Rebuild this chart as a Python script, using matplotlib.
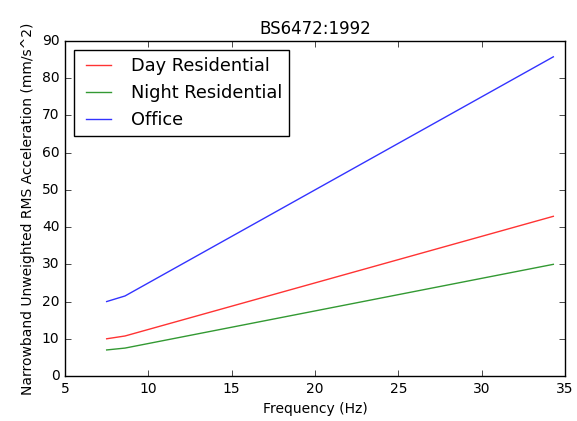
import matplotlib
matplotlib.use("Agg")
import matplotlib.pyplot as plt

plt.style.use("classic")

# Frequency breakpoints (Hz) and acceleration limits (mm/s^2)
freq = [7.5, 8.6, 34.3]
day_residential = [10.0, 10.75, 42.9]
night_residential = [7.0, 7.5, 30.0]
office = [20.0, 21.5, 85.75]

fig = plt.figure(figsize=(5.77, 4.21), dpi=100, facecolor="white")
ax = fig.add_axes([65 / 577, 1 - 376 / 421, 500 / 577, 335 / 421])

ax.plot(freq, day_residential, color="red", label="Day Residential", alpha=0.8)
ax.plot(freq, night_residential, color="green", label="Night Residential", alpha=0.8)
ax.plot(freq, office, color="blue", label="Office", alpha=0.8)

ax.set_xlim(5, 35)
ax.set_ylim(0, 90)
ax.tick_params(labelsize=10)
ax.set_xlabel("Frequency (Hz)", fontsize=10)
ax.set_ylabel("Narrowband Unweighted RMS Acceleration (mm/s^2)", fontsize=10)
ax.set_title("BS6472:1992", fontsize=12)
ax.legend(loc="upper left", fontsize=12.8)

fig.savefig("out.png", dpi=100, facecolor="white")
